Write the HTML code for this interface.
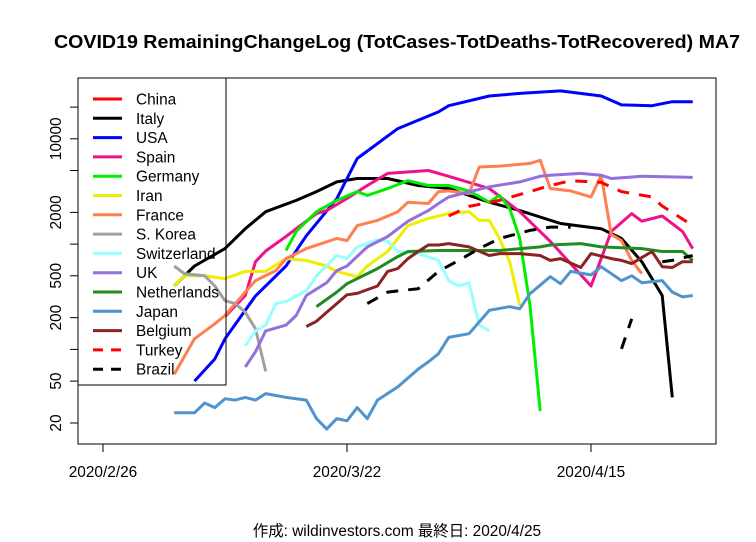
<!DOCTYPE html>
<html><head><meta charset="utf-8">
<style>
html,body{margin:0;padding:0;background:#fff;}
svg{display:block;font-family:"Liberation Sans","Noto Sans CJK JP",sans-serif;}
</style></head>
<body>
<svg id="chart" width="756" height="542" viewBox="0 0 756 542" xmlns="http://www.w3.org/2000/svg">
<text x="397" y="48" text-anchor="middle" font-size="18" font-weight="bold" textLength="686" lengthAdjust="spacingAndGlyphs">COVID19 RemainingChangeLog (TotCases-TotDeaths-TotRecovered) MA7</text>
<rect x="78" y="78" width="638" height="366" fill="none" stroke="#000" stroke-width="1"/>
<g id="axes"></g>
<g id="series"></g>
<g id="legend"></g>
<text x="397" y="536" text-anchor="middle" font-size="15.4">作成: wildinvestors.com 最終日: 2020/4/25</text>
</svg>
<script>
const yTicks=[20,50,100,200,500,1000,2000,5000,10000,20000];
const yTickLabels=["20","50","","200","500","","2000","","10000",""];
const xTickDays=[0,24,48];
const xTickLabels=["2020/2/26","2020/3/22","2020/4/15"];
const countries=["China","Italy","USA","Spain","Germany","Iran","France","S. Korea","Switzerland","UK","Netherlands","Japan","Belgium","Turkey","Brazil"];
const colors=["#ff0000","#000000","#0000ff","#ee1289","#00ee00","#eeee00","#ff7f50","#a0a0a0","#97ffff","#9370db","#228b22","#4f94cd","#8b2323","#ff0000","#000000"];
const dashed=[false,false,false,false,false,false,false,false,false,false,false,false,false,true,true];
const daysChina=[];const valsChina=[];
const daysItaly=[7,9,12,14,16,19,21,23,25,28,31,34,38,41,45,49,51,53,55,56];
const valsItaly=[400,620,907,1400,2030,2600,3150,3900,4200,4200,3600,3370,2500,2080,1570,1400,1130,680,325,35];
const daysUSA=[9,11,12,15,18,20,23,25,29,33,34,38,41,45,49,51,54,56,58];
const valsUSA=[50,81,126,322,620,1200,2700,6500,12500,18000,20600,25500,27000,28500,25500,21000,20600,22500,22500];
const daysSpain=[12,14,15,16,18,19,21,22,24,26,28,32,34,38,41,44,48,50,52,53,55,57,58];
const valsSpain=[205,325,680,860,1180,1400,1950,2080,2710,3600,4690,5000,4400,3370,2030,1060,400,1320,1950,1650,1850,1320,907];
const daysGermany=[18,19,21,23,25,26,28,30,32,34,36,38,39,40,41,42,43];
const valsGermany=[870,1320,2030,2600,3150,2900,3370,4000,3600,3600,3200,2500,2900,2180,1130,260,26];
const daysIran=[7,8,10,12,14,16,18,20,22,23,25,26,28,30,32,34,36,37,38,39,40,41];
const valsIran=[400,500,500,470,550,550,728,700,620,550,490,620,850,1500,1750,1950,2030,1680,1680,1130,680,260];
const daysFrance=[7,9,11,12,14,15,17,18,20,23,24,25,27,29,30,32,33,34,36,37,39,42,43,44,46,48,49,50,51,52,53];
const valsFrance=[58,126,175,210,350,450,560,728,907,1130,1080,1500,1680,2030,2500,2430,3150,3200,3020,5400,5500,5840,6250,3370,3200,2800,4500,1230,1080,700,524];
const daysKorea=[7,8,10,11,12,13,14,15,16];
const valsKorea=[620,524,500,400,290,272,225,157,62];
const daysSwiss=[14,15,16,17,18,20,21,23,24,25,27,28,29,31,33,34,35,36,37,38];
const valsSwiss=[108,150,170,272,285,360,500,780,728,940,1100,1060,850,813,700,450,400,430,170,150];
const daysUK=[14,15,16,18,19,20,22,23,24,26,28,30,32,33,34,38,41,43,44,47,49,50,53,58];
const valsUK=[68,95,150,170,210,325,430,560,620,940,1180,1650,2080,2430,2800,3500,3900,4400,4500,4690,4500,4200,4400,4300];
const daysNeth=[21,23,24,25,27,29,30,33,36,39,43,44,47,49,53,55,57,58];
const valsNeth=[255,350,421,470,585,760,850,870,870,870,940,980,1010,940,907,850,850,700];
const daysJapan=[7,9,10,11,12,13,14,15,16,18,20,21,22,23,24,25,26,27,29,31,32,33,34,36,38,40,41,42,44,45,46,48,49,51,52,53,55,56,57,58];
const valsJapan=[25,25,31,28,34,33,35,33,38,35,33,22,17.5,22,21,28,22,33,44,65,76,91,130,141,235,255,243,338,490,421,550,510,610,450,500,430,450,350,315,325];
const daysBelgium=[20,21,22,23,24,25,27,28,29,30,31,32,33,34,36,38,39,41,43,44,45,47,48,50,51,52,54,55,56,57,58];
const valsBelgium=[165,185,225,272,330,340,400,550,585,728,850,980,980,1010,940,780,813,813,780,700,728,600,813,728,700,653,850,610,600,680,680];
const daysTurkey=[34,36,39,42,44,46,49,51,54,55,58];
const valsTurkey=[1850,2280,2600,3150,3600,4000,3850,3150,2800,2300,1500];
const daysBrazil=[26,28,31,33,35,37,39,42,44,46,47,51,52,53,55,56,58];
const valsBrazil=[272,350,377,550,700,907,1130,1350,1450,1450,null,101,195,null,680,700,780];
const allDays=[daysChina,daysItaly,daysUSA,daysSpain,daysGermany,daysIran,daysFrance,daysKorea,daysSwiss,daysUK,daysNeth,daysJapan,daysBelgium,daysTurkey,daysBrazil];
const allVals=[valsChina,valsItaly,valsUSA,valsSpain,valsGermany,valsIran,valsFrance,valsKorea,valsSwiss,valsUK,valsNeth,valsJapan,valsBelgium,valsTurkey,valsBrazil];

const NS="http://www.w3.org/2000/svg";
function xScale(d){return 103+d*(488/48);}
function yScale(v){return 423-(Math.log10(v)-Math.log10(20))*105.3;}
function mk(tag,attrs,parent){const e=document.createElementNS(NS,tag);for(const k in attrs)e.setAttribute(k,attrs[k]);parent.appendChild(e);return e;}

const axes=document.getElementById('axes');
yTicks.forEach((v,i)=>{
  const y=yScale(v);
  const t=mk('line',{x1:70,x2:78,y1:y,y2:y,stroke:'#000','stroke-width':1},axes);
  
  
  if(yTickLabels[i]){
    const tx=mk('text',{x:0,y:0,'font-size':15.4,'text-anchor':'middle',transform:`translate(61,${y}) rotate(-90)`},axes);
    tx.textContent=yTickLabels[i];
    
    
  }
});
xTickDays.forEach((d,i)=>{
  const x=xScale(d);
  const t=mk('line',{x1:x,x2:x,y1:444,y2:452,stroke:'#000','stroke-width':1},axes);
  
  
  const tx=mk('text',{x:x,y:477,'font-size':15.4,'text-anchor':'middle'},axes);
  tx.textContent=xTickLabels[i];
  
  
});

const sg=document.getElementById('series');
countries.forEach((c,i)=>{
  const ds=allDays[i],vs=allVals[i];
  if(!ds.length)return;
  let d='',pen=false;
  for(let k=0;k<ds.length;k++){
    const v=vs[k];
    if(v==null||v<=0){pen=false;continue;}
    d+=(pen?'L':'M')+xScale(ds[k]).toFixed(1)+' '+yScale(v).toFixed(1)+' ';
    pen=true;
  }
  const p=mk('path',{d:d,fill:'none',stroke:colors[i],'stroke-width':3,'stroke-linejoin':'round'},sg);
  if(dashed[i])p.setAttribute('stroke-dasharray','12,10');
  
  
});

const lg=document.getElementById('legend');
const box=mk('rect',{x:78,y:78,width:148,height:307,fill:'none',stroke:'#000','stroke-width':1},lg);


countries.forEach((c,i)=>{
  const y=99+i*19.3;
  const l=mk('line',{x1:93,x2:122,y1:y,y2:y,stroke:colors[i],'stroke-width':3},lg);
  if(dashed[i])l.setAttribute('stroke-dasharray','10,8');
  
  
  const t=mk('text',{x:136,y:y+5.5,'font-size':15.4},lg);
  t.textContent=c;
  
  
});
</script>
</body></html>
